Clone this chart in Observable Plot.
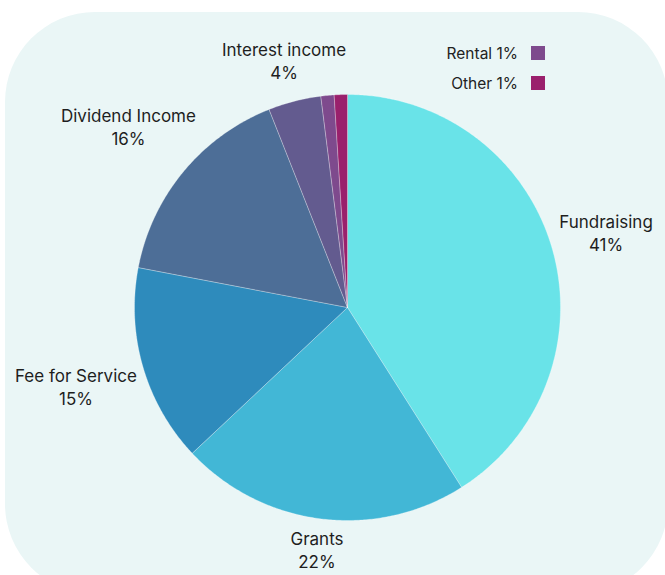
<!DOCTYPE html>
<html><head><meta charset="utf-8">
<script src="https://cdn.jsdelivr.net/npm/d3@7"></script>
<script src="https://cdn.jsdelivr.net/npm/@observablehq/plot@0.6"></script>
<style>
body{margin:0;background:#fff;font-family:Inter, "Noto Sans", sans-serif;}
#wrap{position:relative;width:665px;height:575px;overflow:hidden;}
#bg{position:absolute;left:5px;top:12px;width:663px;height:582px;border-radius:90px;background:#eaf6f6;}
#chart{position:absolute;left:0;top:0;}
#legend{position:absolute;top:38px;right:120px;}
#legend .row{display:flex;align-items:center;justify-content:flex-end;height:30px;gap:13px;font-size:15.5px;color:#222;}
#legend .sw{width:14px;height:14px;}
</style></head><body>
<div id="wrap"><div id="bg"></div><div id="chart"></div><div id="legend"></div></div>
<script>
const categories = ["Fundraising", "Grants", "Fee for Service", "Dividend Income", "Interest income", "Rental", "Other"];
const shares = [41, 22, 15, 16, 4, 1, 1];
const colors = ["#69e3e8", "#42b7d6", "#2e8bbc", "#4d6e97", "#635b8f", "#7e4a8d", "#9a206c"];

const data = categories.map((c, i) => ({cat: c, value: shares[i]}));
const arcs = d3.pie().sort(null).value(d => d.value)(data);

// slice polygons in unit-radius coordinates (angle 0 at top, clockwise)
const poly = [];
for (const a of arcs) {
  const steps = Math.max(2, Math.ceil((a.endAngle - a.startAngle) / (Math.PI / 360)));
  poly.push({cat: a.data.cat, x: 0, y: 0});
  for (let k = 0; k <= steps; k++) {
    const t = a.startAngle + (a.endAngle - a.startAngle) * k / steps;
    poly.push({cat: a.data.cat, x: Math.sin(t), y: Math.cos(t)});
  }
  poly.push({cat: a.data.cat, x: 0, y: 0});
}

const R = 213, fs = 17, lh = 1.32, gap = 5;
const ctx = document.createElement("canvas").getContext("2d");
ctx.font = `${fs}px Inter`;
const labels = arcs.filter(a => a.data.value >= 2).map(a => {
  const text = `${a.data.cat}\n${a.data.value}%`;
  const w = Math.max(...text.split("\n").map(s => ctx.measureText(s).width));
  const h = 2 * fs * lh;
  const m = (a.startAngle + a.endAngle) / 2;
  const s = Math.sin(m), c = Math.cos(m);
  const d = (R + gap + (w / 2) * Math.abs(s) + (h / 2) * Math.abs(c)) / R;
  return {text, x: s * d, y: c * d};
});

const chart = Plot.plot({
  width: 665, height: 575,
  marginLeft: 134, marginRight: 105, marginTop: 94, marginBottom: 55,
  x: {domain: [-1, 1], axis: null},
  y: {domain: [-1, 1], axis: null},
  color: {domain: categories, range: colors},
  style: {background: "transparent", overflow: "visible", fontFamily: "Inter, sans-serif"},
  marks: [
    Plot.line(poly, {x: "x", y: "y", z: "cat", fill: "cat", stroke: "#ffffff", strokeOpacity: 0.35, strokeWidth: 0.8, curve: "linear"}),
    Plot.text(labels, {x: "x", y: "y", text: "text", fontSize: fs, lineHeight: lh, fill: "#1e1e1e", textAnchor: "middle"})
  ]
});
document.getElementById("chart").appendChild(chart);

const legend = document.getElementById("legend");
arcs.filter(a => a.data.value < 2).forEach(a => {
  const row = document.createElement("div");
  row.className = "row";
  row.innerHTML = `<span>${a.data.cat} ${a.data.value}%</span><span class="sw" style="background:${colors[categories.indexOf(a.data.cat)]}"></span>`;
  legend.appendChild(row);
});
</script>
</body></html>
